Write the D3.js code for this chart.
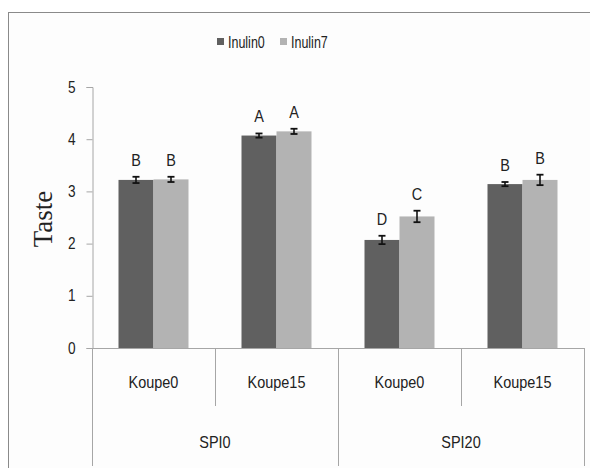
<!DOCTYPE html>
<html>
<head>
<meta charset="utf-8">
<script src="https://cdn.jsdelivr.net/npm/d3@7"></script>
<style>
  body { margin: 0; background: #fff; }
  text { font-family: "Liberation Sans", Arial, sans-serif; fill: #222; }
</style>
</head>
<body>
<div id="chart"></div>
<script>
// Taste scores by SPI / Koupe level, two inulin series
const groups = ['SPI0', 'SPI20'];
const subgroups = ['Koupe0', 'Koupe15'];
const series = ['Inulin0', 'Inulin7'];
const inulin0 = [3.22, 4.07, 2.07, 3.14];
const inulin7 = [3.23, 4.15, 2.52, 3.22];
const err0 = [0.06, 0.04, 0.08, 0.04];
const err7 = [0.05, 0.05, 0.11, 0.10];
const letters0 = ['B', 'A', 'D', 'B'];
const letters7 = ['B', 'A', 'C', 'B'];
const yTicks = [0, 1, 2, 3, 4, 5];

const W = 590, H = 468;
const plot = { left: 92, right: 584, top: 87, bottom: 348 };
const colors = { Inulin0: '#606060', Inulin7: '#b3b3b3' };

// squeeze text horizontally so it looks like a narrow font
function narrow(sel, k) {
    sel.each(function() {
        const len = this.getComputedTextLength();
        d3.select(this).attr('textLength', len * k).attr('lengthAdjust', 'spacingAndGlyphs');
    });
}

const svg = d3.select('#chart').append('svg')
    .attr('width', W)
    .attr('height', H);

// frame
svg.append('rect')
    .attr('x', 8.5).attr('y', 12.5)
    .attr('width', 620).attr('height', 500)
    .attr('fill', '#fdfdfd')
    .attr('stroke', '#8a8a8a');

// category keys: one per (group, subgroup)
const cats = [];
groups.forEach(g => subgroups.forEach(s => cats.push(g + '|' + s)));

const x = d3.scaleBand().domain(cats).range([plot.left, plot.right]);
const xs = d3.scaleBand().domain(series)
    .range([x.bandwidth() / 2 - 35, x.bandwidth() / 2 + 35]);
const y = d3.scaleLinear().domain([0, 5]).range([plot.bottom, plot.top]);

// y axis
const yAxis = svg.append('g')
    .attr('transform', `translate(${plot.left + 0.5},0)`)
    .call(d3.axisLeft(y).tickValues(yTicks).tickSize(6).tickPadding(11).tickFormat(d3.format('d')));
yAxis.select('.domain').attr('stroke', '#a6a6a6');
yAxis.selectAll('.tick line').attr('stroke', '#a6a6a6');
yAxis.selectAll('.tick text').style('font-size', '16px').attr('fill', '#222')
    .call(narrow, 0.85);

svg.append('text')
    .attr('transform', `translate(52,219) rotate(-90)`)
    .attr('text-anchor', 'middle')
    .style('font-family', '"Liberation Serif", "Times New Roman", serif')
    .style('font-size', '27px')
    .text('Taste');

// x axis baseline and separators
svg.append('line')
    .attr('x1', plot.left).attr('x2', plot.right)
    .attr('y1', plot.bottom + 0.5).attr('y2', plot.bottom + 0.5)
    .attr('stroke', '#a6a6a6');

cats.forEach((c, i) => {
    const xPos = Math.round(x(c)) + 0.5;
    const outer = i % subgroups.length === 0;
    svg.append('line')
        .attr('x1', xPos).attr('x2', xPos)
        .attr('y1', plot.bottom).attr('y2', outer ? 466 : 406)
        .attr('stroke', '#a6a6a6');
});
svg.append('line')
    .attr('x1', plot.right + 0.5).attr('x2', plot.right + 0.5)
    .attr('y1', plot.bottom).attr('y2', 466)
    .attr('stroke', '#a6a6a6');

// subgroup labels
svg.selectAll('.sub-label')
    .data(cats)
    .enter().append('text')
    .attr('x', d => x(d) + x.bandwidth() / 2)
    .attr('y', 388)
    .attr('text-anchor', 'middle')
    .style('font-size', '17px')
    .text(d => d.split('|')[1])
    .call(narrow, 0.85);

// group labels
svg.selectAll('.grp-label')
    .data(groups)
    .enter().append('text')
    .attr('x', g => x(g + '|' + subgroups[0]) + x.bandwidth() * subgroups.length / 2)
    .attr('y', 448)
    .attr('text-anchor', 'middle')
    .style('font-size', '17px')
    .text(g => g)
    .call(narrow, 0.85);

// bars
const rows = [];
cats.forEach((c, i) => {
    rows.push({ cat: c, s: 'Inulin0', v: inulin0[i], e: err0[i], l: letters0[i] });
    rows.push({ cat: c, s: 'Inulin7', v: inulin7[i], e: err7[i], l: letters7[i] });
});

const bar = svg.selectAll('.bar')
    .data(rows)
    .enter().append('g')
    .attr('transform', d => `translate(${x(d.cat) + xs(d.s)},0)`);

bar.append('rect')
    .attr('x', 0)
    .attr('y', d => y(d.v))
    .attr('width', xs.bandwidth())
    .attr('height', d => y(0) - y(d.v))
    .attr('fill', d => colors[d.s]);

// error bars
const cx = xs.bandwidth() / 2;
bar.append('line')
    .attr('x1', cx).attr('x2', cx)
    .attr('y1', d => y(d.v + d.e)).attr('y2', d => y(d.v - d.e))
    .attr('stroke', '#111').attr('stroke-width', 1.6);
bar.append('line')
    .attr('x1', cx - 3.5).attr('x2', cx + 3.5)
    .attr('y1', d => y(d.v + d.e)).attr('y2', d => y(d.v + d.e))
    .attr('stroke', '#111').attr('stroke-width', 1.8);
bar.append('line')
    .attr('x1', cx - 3.5).attr('x2', cx + 3.5)
    .attr('y1', d => y(d.v - d.e)).attr('y2', d => y(d.v - d.e))
    .attr('stroke', '#111').attr('stroke-width', 1.8);

// significance letters
bar.append('text')
    .attr('x', cx)
    .attr('y', d => y(d.v + d.e) - 11)
    .attr('text-anchor', 'middle')
    .style('font-size', '17px')
    .text(d => d.l)
    .call(narrow, 0.85);

// legend
const legend = svg.append('g').attr('transform', 'translate(217,36)');
const legX = [0, 63];
series.forEach((s, i) => {
    legend.append('rect')
        .attr('x', legX[i]).attr('y', 2)
        .attr('width', 7).attr('height', 7)
        .attr('fill', colors[s]);
    legend.append('text')
        .attr('x', legX[i] + 11).attr('y', 12)
        .style('font-size', '16px')
        .text(s)
        .call(narrow, 0.78);
});
</script>
</body>
</html>
